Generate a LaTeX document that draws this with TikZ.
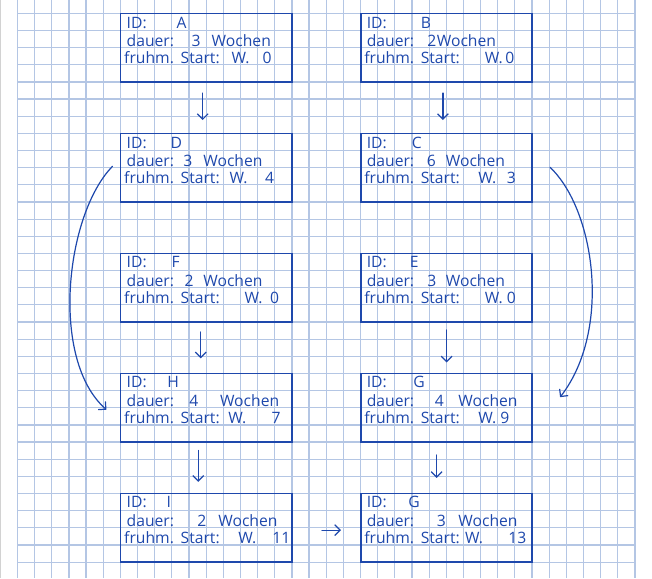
\documentclass[tikz,border=0pt]{standalone}
\usepackage{fontspec}
\setmainfont{Open Sans}
\usetikzlibrary{calc,arrows.meta}
\definecolor{ink}{RGB}{30,72,172}
\definecolor{gridblue}{RGB}{180,198,228}
\begin{document}
\begin{tikzpicture}[x=0.029155cm,y=-0.029155cm,
  gridline/.style={draw=gridblue,line width=1pt},
  card/.style={draw=ink,line width=1.5pt,minimum width=5cm,minimum height=2cm,
    inner sep=0pt,outer sep=0pt,anchor=north west},
  hand/.style={anchor=base west,inner sep=0pt,text=ink,font=\fontsize{13}{15}\selectfont},
  arr/.style={draw=ink,line width=1pt,line cap=round,-{Straight Barb[length=4.5pt,width=9pt]}}]
\useasboundingbox (0,0) rectangle (652,578);

% squared paper
\draw[gray!35,line width=0.6pt] (0.6,0) -- (0.6,578);
\foreach \gx in {0,...,36}
  \draw[gridline] ({17.5+17.15*\gx},0) -- ({17.5+17.15*\gx},578);
\foreach \gy in {0,...,32}
  \draw[gridline] (17.5,{13.3+17.15*\gy}) -- (634.9,{13.3+17.15*\gy});

% task cards: name / position / id / duration / earliest start week
\foreach \nm/\px/\py/\idv/\ido/\dur/\duro/\wko/\wo/\wn/\wno in {
  A/120.5/13.5/A/56/3/71/91/111/0/142,
  B/360.6/13.5/B/60/2/66.6/76/124/0/144.5,
  D/120.5/133.5/D/50/3/62.6/82.6/109/4/144.5,
  C/360.6/133.5/C/51/6/66/85/117.6/3/146,
  F/120.5/253.4/F/51/2/64/82.6/124/0/149.5,
  E/360.6/253.4/E/49/3/66.6/85/124/0/146,
  H/120.5/373.4/H/46.6/4/68.6/99.3/107.6/7/151,
  G/360.6/373.4/G/52.6/4/74/97.6/117.6/9/139.6,
  I/120.5/493.4/I/46/2/76.6/97.6/117.6/11/151.6,
  G2/360.6/493.4/G/47.6/3/76/97.6/104.3/13/147.6}
{
  \node[card] (\nm) at (\px,\py) {};
  \node[hand] (\nm-idl) at ($(\nm.north west)+(6,14.5)$) {ID:};
  \node[hand] (\nm-idv) at ($(\nm.north west)+(\ido,14.5)$) {\idv};
  \node[hand] (\nm-dl) at ($(\nm.north west)+(6,33)$) {dauer:};
  \node[hand] (\nm-dn) at ($(\nm.north west)+(\duro,33)$) {\dur};
  \node[hand] (\nm-dw) at ($(\nm.north west)+(\wko,33)$) {Wochen};
  \node[hand] (\nm-sl) at ($(\nm.north west)+(3.5,50)$) {fruhm.};
  \node[hand] (\nm-ss) at ($(\nm.north west)+(60,50)$) {Start:};
  \node[hand] (\nm-sw) at ($(\nm.north west)+(\wo,50)$) {W.};
  \node[hand] (\nm-sn) at ($(\nm.north west)+(\wno,50)$) {\wn};
}

% dependencies
\draw[arr] ($(A.south)+(-3.5,11)$) -- ($(D.north)+(-3.5,-13.5)$);
\draw[arr] ($(B.south)+(-3.4,11)$) -- ($(C.north)+(-3.4,-13.5)$);
\draw[arr] ($(F.south)+(-5.5,10)$) -- ($(H.north)+(-5.5,-15)$);
\draw[arr] ($(E.south)+(0.3,8)$) -- ($(G.north)+(0.3,-11)$);
\draw[arr] ($(H.south)+(-8,8.5)$) -- ($(I.north)+(-8,-11.5)$);
\draw[arr] ($(G.south)+(-9.7,13)$) -- ($(G2.north)+(-9.7,-15.5)$);
\draw[arr] ($(I.east)+(30,2.4)$) -- ($(G2.west)+(-19.6,2.4)$);
\draw[arr] ($(D.west)+(-8,-1.5)$) .. controls (65,215) and (50,360) .. ($(H.west)+(-14,2)$);
\draw[arr] ($(C.east)+(18,-0.5)$) .. controls (595,210) and (612,330) .. ($(G.east)+(28,-10.5)$);
\end{tikzpicture}
\end{document}
